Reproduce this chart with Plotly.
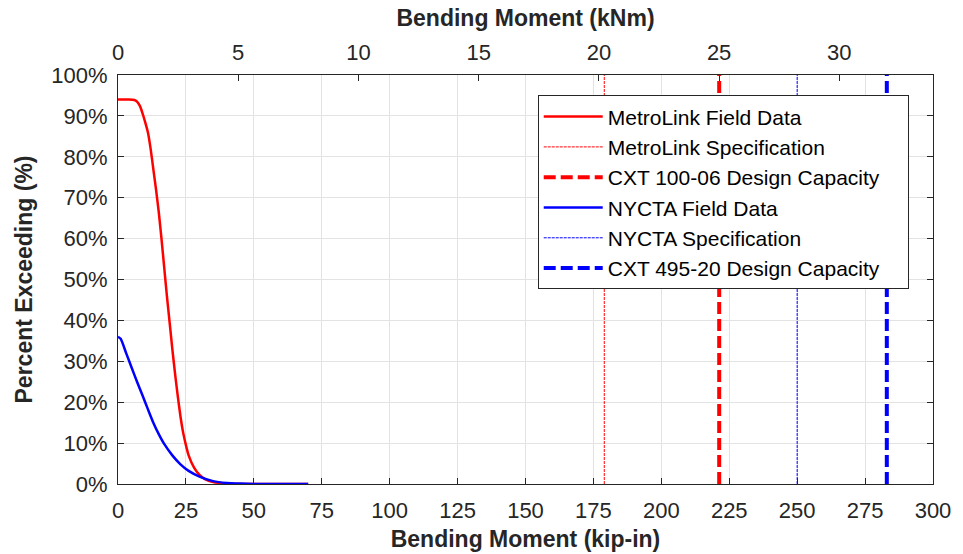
import plotly.graph_objects as go

KIP_IN_PER_KNM = 8.8507

# MetroLink field data (kip-in, % exceeding)
metro_x = [0, 2, 4, 6, 7, 8, 9, 10, 11, 12, 13, 14, 15, 16, 17, 18, 19, 20, 21, 22, 23, 24, 25, 26, 28, 30, 32, 35, 40, 45, 50, 60, 70]
metro_y = [94, 94, 94, 93.9, 93.5, 92.5, 90.7, 88.5, 86, 82, 77, 72, 66.5, 60, 53, 46, 39.5, 33, 27, 21.5, 16.5, 12.5, 9.5, 7, 4, 2.2, 1.2, 0.5, 0.1, 0.02, 0, 0, 0]

# NYCTA field data
nyc_x = [0, 1, 3, 5, 7, 9, 11, 13, 15, 17, 20, 23, 26, 30, 35, 40, 45, 50, 60, 70]
nyc_y = [36, 35.5, 32, 28.5, 25, 21.7, 18.3, 15, 12.2, 9.8, 7, 4.8, 3.2, 1.8, 0.7, 0.25, 0.1, 0.03, 0, 0]

# Vertical reference lines (kip-in)
metro_spec = 179
cxt100_cap = 221.3
nyc_spec = 250
cxt495_cap = 283

y_ticks = [0, 10, 20, 30, 40, 50, 60, 70, 80, 90, 100]
y_labels = ["0%", "10%", "20%", "30%", "40%", "50%", "60%", "70%", "80%", "90%", "100%"]
x_ticks = [0, 25, 50, 75, 100, 125, 150, 175, 200, 225, 250, 275, 300]
top_ticks = [0, 5, 10, 15, 20, 25, 30]

FONT = "Arial, Liberation Sans, sans-serif"
TXT = "#262626"
PAD = "\u00a0" * 4  # widens the legend box like the reference

fig = go.Figure()
fig.add_trace(go.Scatter(x=metro_x, y=metro_y, mode="lines", name="MetroLink Field Data",
                         line=dict(color="#ff0000", width=2.5, shape="spline", smoothing=0.5)))
fig.add_trace(go.Scatter(x=[metro_spec, metro_spec], y=[0, 100], mode="lines", name="MetroLink Specification",
                         line=dict(color="#ff0000", width=1, dash="3px,1px")))
fig.add_trace(go.Scatter(x=[cxt100_cap, cxt100_cap], y=[0, 100], mode="lines", name="CXT 100-06 Design Capacity" + PAD,
                         line=dict(color="#ff0000", width=4, dash="12px,5px")))
fig.add_trace(go.Scatter(x=nyc_x, y=nyc_y, mode="lines", name="NYCTA Field Data",
                         line=dict(color="#0000ff", width=2.5, shape="spline", smoothing=0.5)))
fig.add_trace(go.Scatter(x=[nyc_spec, nyc_spec], y=[0, 100], mode="lines", name="NYCTA Specification",
                         line=dict(color="#0000ff", width=1, dash="3px,1px")))
fig.add_trace(go.Scatter(x=[cxt495_cap, cxt495_cap], y=[0, 100], mode="lines", name="CXT 495-20 Design Capacity",
                         line=dict(color="#0000ff", width=4, dash="12px,5px")))
# invisible trace to activate top axis
fig.add_trace(go.Scatter(x=[0, 300 / KIP_IN_PER_KNM], y=[0, 0], xaxis="x2", mode="lines",
                         line=dict(width=0), showlegend=False, hoverinfo="skip", opacity=0))

fig.update_layout(
    width=963, height=554,
    margin=dict(l=118, r=30, t=75, b=70),
    paper_bgcolor="white", plot_bgcolor="white",
    font=dict(family=FONT, size=22, color=TXT),
    xaxis=dict(range=[0, 300], tickvals=x_ticks, ticks="inside", ticklen=6, tickcolor=TXT,
               showgrid=True, gridcolor="#e3e3e3", gridwidth=1, automargin=False,
               showline=True, linecolor=TXT, linewidth=1, mirror=False, zeroline=False,
               tickfont=dict(size=22, color=TXT), ticklabelstandoff=7,
               title=dict(text="<b>Bending Moment (kip-in)</b>", font=dict(size=23, color=TXT), standoff=8)),
    xaxis2=dict(range=[0, 300 / KIP_IN_PER_KNM], tickvals=top_ticks, overlaying="x", side="top",
                ticks="inside", ticklen=6, tickcolor=TXT, showgrid=False, automargin=False,
                showline=True, linecolor=TXT, linewidth=1, zeroline=False,
                tickfont=dict(size=22, color=TXT), ticklabelstandoff=5,
                title=dict(text="<b>Bending Moment (kNm)</b>", font=dict(size=23, color=TXT), standoff=7)),
    yaxis=dict(range=[0, 100], tickvals=y_ticks, ticktext=y_labels, ticks="inside", ticklen=6, tickcolor=TXT,
               showgrid=True, gridcolor="#e3e3e3", gridwidth=1, automargin=False,
               showline=True, linecolor=TXT, linewidth=1, mirror="ticks", zeroline=False,
               tickfont=dict(size=22, color=TXT), ticklabelstandoff=5,
               title=dict(text="<b>Percent Exceeding (%)</b>", font=dict(size=23, color=TXT), standoff=12)),
    legend=dict(x=0.515, y=0.95, xanchor="left", yanchor="top",
                bgcolor="white", bordercolor=TXT, borderwidth=1,
                font=dict(size=21, color="black"), itemwidth=59, tracegroupgap=0),
    showlegend=True,
)

fig.write_html("out.html")
